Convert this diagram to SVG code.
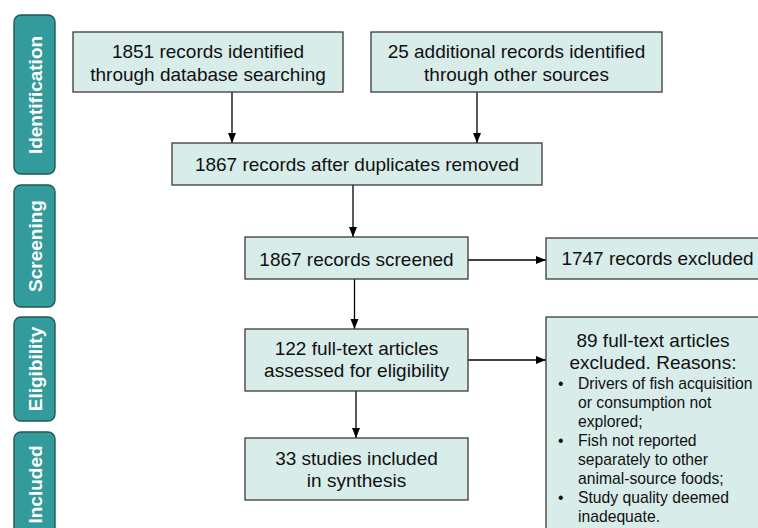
<svg xmlns="http://www.w3.org/2000/svg" width="758" height="528" viewBox="0 0 758 528">
<defs>
<marker id="arr" markerWidth="10" markerHeight="10" refX="10" refY="5" orient="auto" markerUnits="userSpaceOnUse">
<path d="M0,1 L10,5 L0,9 Z" fill="#000"/>
</marker>
<style>
.side rect{fill:#339b9b;stroke:#1f5858;stroke-width:1.4}
.side text{fill:#fff;font-family:"Liberation Sans",Arial,sans-serif;font-weight:bold;font-size:19px;text-anchor:middle}
.box rect{fill:#d8ecea;stroke:#3a3a3a;stroke-width:1.3}
.box text{fill:#111;font-family:"Liberation Sans",Arial,sans-serif;font-size:19px;text-anchor:middle}
.box text.sm{font-size:15.7px;text-anchor:start}
#connectors line{stroke:#000;stroke-width:1.3;marker-end:url(#arr)}
</style>
</defs>
<rect width="758" height="528" fill="#fff"/>
<g id="side-identification" class="side">
<rect x="14" y="15" width="41" height="159" rx="7"/>
<text transform="translate(42,95) rotate(-90)">Identification</text>
</g>
<g id="side-screening" class="side">
<rect x="14" y="185" width="41" height="122" rx="7"/>
<text transform="translate(42,246) rotate(-90)">Screening</text>
</g>
<g id="side-eligibility" class="side">
<rect x="14" y="317" width="41" height="104" rx="7"/>
<text transform="translate(42,369) rotate(-90)">Eligibility</text>
</g>
<g id="side-included" class="side">
<rect x="14" y="432" width="41" height="110" rx="7"/>
<text transform="translate(42,484.5) rotate(-90)">Included</text>
</g>
<g id="connectors">
<line x1="232" y1="92" x2="232" y2="143"/>
<line x1="477" y1="92" x2="477" y2="143"/>
<line x1="353" y1="185" x2="353" y2="237"/>
<line x1="468" y1="260" x2="546" y2="260"/>
<line x1="354.5" y1="279" x2="354.5" y2="329"/>
<line x1="468" y1="360" x2="546" y2="360"/>
<line x1="356" y1="391" x2="356" y2="438"/>
</g>
<g id="box-database" class="box">
<rect x="73" y="32" width="270" height="60"/>
<text x="208" y="58">1851 records identified</text>
<text x="208" y="81">through database searching</text>
</g>
<g id="box-other" class="box">
<rect x="371" y="32" width="291" height="60"/>
<text x="516.5" y="58">25 additional records identified</text>
<text x="516.5" y="81">through other sources</text>
</g>
<g id="box-duplicates" class="box">
<rect x="172" y="143" width="370" height="42"/>
<text x="357" y="171">1867 records after duplicates removed</text>
</g>
<g id="box-screened" class="box">
<rect x="245" y="237" width="223" height="42"/>
<text x="356.5" y="266">1867 records screened</text>
</g>
<g id="box-excluded" class="box">
<rect x="546" y="238" width="230" height="41"/>
<text x="657.5" y="265">1747 records excluded</text>
</g>
<g id="box-fulltext" class="box">
<rect x="245" y="329" width="223" height="62"/>
<text x="356.5" y="355">122 full-text articles</text>
<text x="356.5" y="377">assessed for eligibility</text>
</g>
<g id="box-ftexcluded" class="box">
<rect x="546" y="317" width="230" height="230"/>
<text x="653" y="347">89 full-text articles</text>
<text x="653" y="369">excluded. Reasons:</text>
<text class="sm" x="558" y="389">•</text>
<text class="sm" x="578" y="389">Drivers of fish acquisition</text>
<text class="sm" x="578" y="408">or consumption not</text>
<text class="sm" x="578" y="427">explored;</text>
<text class="sm" x="558" y="446">•</text>
<text class="sm" x="578" y="446">Fish not reported</text>
<text class="sm" x="578" y="465">separately to other</text>
<text class="sm" x="578" y="484">animal-source foods;</text>
<text class="sm" x="558" y="503">•</text>
<text class="sm" x="578" y="503">Study quality deemed</text>
<text class="sm" x="578" y="522">inadequate.</text>
</g>
<g id="box-included" class="box">
<rect x="245" y="438" width="223" height="62"/>
<text x="356.5" y="465">33 studies included</text>
<text x="356.5" y="487">in synthesis</text>
</g>
</svg>
